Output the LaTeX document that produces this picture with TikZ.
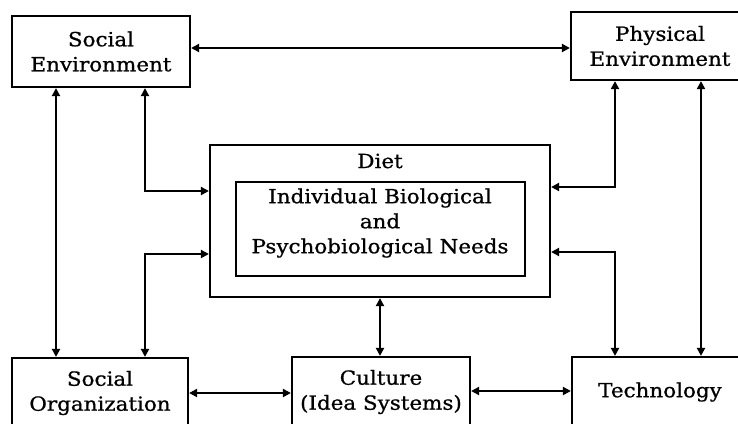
\documentclass[tikz,border=0pt]{standalone}
\usepackage{fontspec}
\setmainfont[FakeStretch=1.1,FakeBold=0.8]{DejaVu Serif}
\usetikzlibrary{arrows.meta,calc}
\begin{document}
\begin{tikzpicture}[x=1pt,y=-1pt,
  txt/.style={font=\fontsize{19.5}{25}\selectfont, align=center},
  box/.style={draw, line width=2.2pt, txt, inner sep=0pt},
  arr/.style={{Triangle[length=8pt,width=8pt]}-{Triangle[length=8pt,width=8pt]}, line width=2pt},
  ]
\fill[white] (0,0) rectangle (738,423);
\useasboundingbox (0,0) rectangle (738,423);
% boxes
\node[box, minimum width=178pt, minimum height=71pt] (socenv) at (101,51.5) {Social\\Environment};
\node[box, minimum width=178pt, minimum height=68pt] (physenv) at (660,46) {Physical\\Environment};
\node[box, minimum width=340pt, minimum height=152pt] (diet) at (380,221) {};
\node[txt] (dietlabel) at (380,161) {Diet};
\node[box, minimum width=289pt, minimum height=94pt] (needs) at (380.5,229) {};
\node[txt] (needslabel) at (380,223) {Individual Biological\\and\\Psychobiological Needs};
\node[box, minimum width=176pt, minimum height=70pt] (socorg) at (100,393) {Social\\Organization};
\node[box, minimum width=178pt, minimum height=70pt] (culture) at (381,392) {Culture\\(Idea Systems)};
\node[box, minimum width=176pt, minimum height=70pt] (tech) at (660,392) {Technology};
% helper coordinates
\coordinate (x56) at (56,0);
\coordinate (x145) at (145,0);
\coordinate (x615) at (615,0);
\coordinate (x701) at (701,0);
\coordinate (y48) at (0,48);
\coordinate (y191) at (0,191);
\coordinate (y254) at (0,254);
\coordinate (y393) at (0,393);
\coordinate (y391) at (0,391);
\coordinate (y187) at (0,187);
\coordinate (y252) at (0,252);
% connectors
\draw[arr] (socenv.east |- y48) -- (physenv.west |- y48);
\draw[arr] (socenv.south -| x56) -- (socorg.north -| x56);
\draw[arr] (socenv.south -| x145) |- (diet.west |- y191);
\draw[arr] (diet.west |- y254) -| (socorg.north -| x145);
\draw[arr] (socorg.east |- y393) -- (culture.west |- y393);
\draw[arr] (diet.south) -- (diet.south |- culture.north);
\draw[arr] (culture.east |- y391) -- (tech.west |- y391);
\draw[arr] (physenv.south -| x615) |- (diet.east |- y187);
\draw[arr] (physenv.south -| x701) -- (tech.north -| x701);
\draw[arr] (diet.east |- y252) -| (tech.north -| x615);
\end{tikzpicture}
\end{document}
